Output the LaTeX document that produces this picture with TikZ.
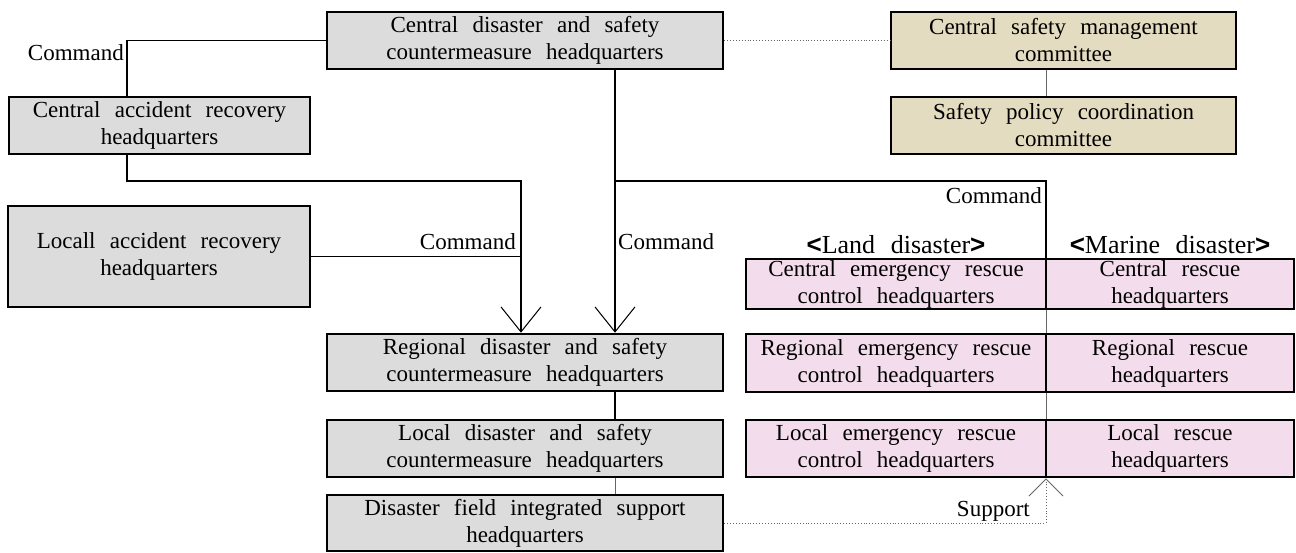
\documentclass[tikz,border=0pt]{standalone}
\usepackage{fontspec}
\setmainfont{Liberation Serif}
\newfontfamily\brkfont{Liberation Sans}
\usetikzlibrary{arrows.meta}
\definecolor{gfill}{RGB}{220,220,220}
\definecolor{tfill}{RGB}{228,220,192}
\definecolor{pfill}{RGB}{243,221,236}
\newcommand\txtfont{\fontsize{23}{27}\selectfont\spaceskip=0.62em plus 0.1em\relax}
\newcommand\hdrfont{\fontsize{26}{30}\selectfont\spaceskip=0.6em plus 0.1em\relax}
\newcommand\hb[1]{{\brkfont\bfseries #1}}
\begin{document}
\begin{tikzpicture}[x=1pt,y=-1pt,
  box/.style={draw=black, line width=2.6pt, inner sep=0pt, align=center, font=\txtfont},
  gbox/.style={box, fill=gfill},
  tbox/.style={box, fill=tfill},
  pbox/.style={box, fill=pfill},
  lbl/.style={inner sep=0pt, font=\txtfont},
  hdr/.style={inner sep=0pt, font=\hdrfont},
  conn/.style={draw=black, line width=1.4pt},
  thinc/.style={draw=black!60, line width=0.9pt},
  dotc/.style={draw=black!60, line width=0.9pt, dotted},
  bigbarb/.style={-{Straight Barb[length=25pt,width=40pt,line width=1pt]}},
  smallbarb/.style={-{Straight Barb[length=17pt,width=34pt,line width=1pt]}}
]
\useasboundingbox (0,0) rectangle (1296,552);

% named x / y references
\coordinate (xa) at (127,0);
\coordinate (xb) at (521,0);
\coordinate (xc) at (615,0);
\coordinate (xd) at (1046,0);
\coordinate (yh) at (0,181);

% gray boxes
\node[gbox, minimum width=396pt, minimum height=57pt] (cd) at (525,40.5) {Central disaster and safety\\countermeasure headquarters};
\node[gbox, minimum width=301pt, minimum height=57pt] (car) at (159.5,125.5) {Central accident recovery\\headquarters};
\node[gbox, minimum width=302pt, minimum height=101pt] (lar) at (159,256.5) {Locall accident recovery\\headquarters};
\node[gbox, minimum width=396pt, minimum height=57pt] (rd) at (525,362.5) {Regional disaster and safety\\countermeasure headquarters};
\node[gbox, minimum width=396pt, minimum height=57pt] (ld) at (525,448.5) {Local disaster and safety\\countermeasure headquarters};
\node[gbox, minimum width=396pt, minimum height=56pt] (df) at (525,523) {Disaster field integrated support\\headquarters};

% tan boxes
\node[tbox, minimum width=345pt, minimum height=57pt] (csm) at (1063.5,40.5) {Central safety management\\committee};
\node[tbox, minimum width=345pt, minimum height=57pt] (sp) at (1063.5,125.5) {Safety policy coordination\\committee};

% pink boxes
\node[pbox, minimum width=300pt, minimum height=50pt] (l1) at (896,284) {Central emergency rescue\\control headquarters};
\node[pbox, minimum width=248pt, minimum height=50pt] (m1) at (1170,284) {Central rescue\\headquarters};
\node[pbox, minimum width=300pt, minimum height=58pt] (l2) at (896,363) {Regional emergency rescue\\control headquarters};
\node[pbox, minimum width=248pt, minimum height=58pt] (m2) at (1170,363) {Regional rescue\\headquarters};
\node[pbox, minimum width=300pt, minimum height=57pt] (l3) at (896,448.5) {Local emergency rescue\\control headquarters};
\node[pbox, minimum width=248pt, minimum height=57pt] (m3) at (1170,448.5) {Local rescue\\headquarters};

% headers
\node[hdr, anchor=base] (hland) at (896,253) {\hb{<}Land disaster\hb{>}};
\node[hdr, anchor=base] (hmar) at (1170,253) {\hb{<}Marine disaster\hb{>}};

% labels
\node[lbl, anchor=east] (cmd1) at (124,53) {Command};
\node[lbl, anchor=east] (cmd2) at (516,242) {Command};
\node[lbl, anchor=west] (cmd3) at (618,242) {Command};
\node[lbl, anchor=east] (cmd4) at (1042,196) {Command};
\node[lbl, anchor=east] (sup) at (1030,511) {Support};

% connectors
\draw[conn] (cd.west) -| (xa |- car.north);
\draw[conn, bigbarb] (xa |- car.south) -- (xa |- yh) -- (xb |- yh) -- (xb |- rd.north);
\draw[conn] (lar.east) -- (xb |- lar.east);
\draw[conn, bigbarb] (xc |- cd.south) -- (xc |- rd.north);
\draw[conn] (xc |- yh) -- (xd |- yh) -- (xd |- l1.north);
\draw[thinc] (xd |- l1.south) -- (xd |- l2.north);
\draw[thinc] (xd |- l2.south) -- (xd |- l3.north);
\draw[dotc] (cd.east) -- (csm.west);
\draw[thinc] (xd |- csm.south) -- (xd |- sp.north);
\draw[conn] (xc |- rd.south) -- (xc |- ld.north);
\draw[thinc] (xc |- ld.south) -- (xc |- df.north);
\draw[dotc] (df.east) -- (xd |- df.east);
\draw[dotc, smallbarb] (xd |- df.east) -- (xd |- l3.south);
\end{tikzpicture}
\end{document}
